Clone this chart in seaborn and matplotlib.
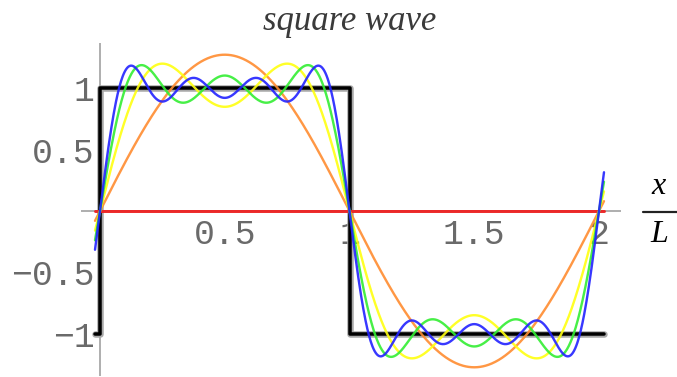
import numpy as np
import pandas as pd
import matplotlib
matplotlib.use("Agg")
import matplotlib.pyplot as plt
from matplotlib.lines import Line2D
from matplotlib.ticker import FixedLocator
import seaborn as sns

# Fourier sine series of the unit square wave on 0 < x < 2L:
# f(x) = sum over odd n of b_n sin(n*pi*x/L), with b_n = 4/(n*pi)
harmonics = [1, 3, 5, 7]
amplitudes = [4 / (n * np.pi) for n in harmonics]

# partial sums with 0..4 terms, one colour each
series_names = ["0 terms", "1 term", "2 terms", "3 terms", "4 terms"]
series_colors = ["#ee2222", "#ff8c30", "#ffff10", "#33ee33", "#2222ff"]

# the square wave itself
square_x = [-0.02, 0, 0, 1, 1, 2.02]
square_y = [-1, -1, 1, 1, -1, -1]

x_ticks = [0.5, 1, 1.5, 2]
x_tick_labels = ["0.5", "1", "1.5", "2"]
y_ticks = [-1, -0.5, 0.5, 1]
y_tick_labels = ["\u22121", "\u22120.5", "0.5", "1"]

title = "square wave"

# ---------------------------------------------------------------------------
xs = np.linspace(-0.02, 2.02, 900)
rows = []
for k, name in enumerate(series_names):
    total = np.zeros_like(xs)
    for n, b in zip(harmonics[:k], amplitudes[:k]):
        total = total + b * np.sin(n * np.pi * xs)
    rows.append(pd.DataFrame({"x": xs, "y": total, "series": name}))
partial = pd.concat(rows, ignore_index=True)
square = pd.DataFrame({"x": square_x, "y": square_y})

sns.set_theme(style="white")
plt.rcParams["font.family"] = ["DejaVu Sans"]

W, H, DPI = 677, 377, 100
fig = plt.figure(figsize=(W / DPI, H / DPI), dpi=DPI)
ax = fig.add_axes([0, 0, 1, 1])
ax.patch.set_alpha(0)

# pixel geometry of the data frame
x0_px, x_scale = 100.0, 249.5
y0_px, y_scale = 211.0, 122.75
ax.set_xlim(-x0_px / x_scale, (W - x0_px) / x_scale)
ax.set_ylim(-(H - y0_px) / y_scale, y0_px / y_scale)

px = 72.0 / DPI  # points per pixel

# square wave: thick black line with a soft grey rim
sns.lineplot(data=square, x="x", y="y", ax=ax, estimator=None, sort=False,
             color="#a8a8a8", lw=6.5 * px, zorder=2)
sns.lineplot(data=square, x="x", y="y", ax=ax, estimator=None, sort=False,
             color="black", lw=3.5 * px, zorder=2.1)

# Fourier partial sums (the constant zeroth sum drawn a little heavier)
sns.lineplot(data=partial[partial["series"] == series_names[0]], x="x", y="y",
             ax=ax, estimator=None, sort=False, color=series_colors[0],
             lw=3.0 * px, alpha=0.95, zorder=3)
sns.lineplot(data=partial[partial["series"] != series_names[0]], x="x", y="y",
             hue="series", palette=series_colors[1:], hue_order=series_names[1:],
             ax=ax, estimator=None, sort=False,
             lw=2.4 * px, alpha=0.9, legend=False, zorder=3)

# axes crossing at the origin
for side in ["top", "right"]:
    ax.spines[side].set_visible(False)
ax.spines["left"].set_position(("data", 0))
ax.spines["bottom"].set_position(("data", 0))
ax.spines["bottom"].set_bounds(-18 / x_scale, 520 / x_scale)
ax.spines["left"].set_bounds(-164 / y_scale, 167 / y_scale)
for side in ["left", "bottom"]:
    ax.spines[side].set_color("#b0b0b0")
    ax.spines[side].set_linewidth(2.0 * px)
    ax.spines[side].set_zorder(1.5)

ax.set_xticks(x_ticks)
ax.set_xticklabels(x_tick_labels)
ax.set_yticks(y_ticks)
ax.set_yticklabels(y_tick_labels)
ax.xaxis.set_minor_locator(FixedLocator([v / 10 for v in range(1, 21) if v % 5]))
ax.yaxis.set_minor_locator(FixedLocator([v / 10 for v in range(-13, 14) if v % 5]))

for lab in ax.get_xticklabels() + ax.get_yticklabels():
    lab.set_fontfamily(["Liberation Mono", "DejaVu Sans Mono"])
    lab.set_fontsize(25)
    lab.set_color("#6a6a6a")

ax.tick_params(which="both", direction="in", color="#bdbdbd", width=1.5 * px)
ax.tick_params(which="major", length=6 * px)
ax.tick_params(which="minor", length=3.5 * px)
ax.tick_params(axis="x", which="major", pad=5)
ax.tick_params(axis="y", which="major", pad=4)
ax.set_xlabel("")
ax.set_ylabel("")
ax.grid(False)

# title
fig.text(350 / W, 1 - 22 / H, title, ha="center", va="center",
         family="Liberation Serif", style="italic", size=25, color="#3a3a3a")

# axis label x / L as a stacked fraction
fig.text(659 / W, 1 - 186 / H, "x", ha="center", va="center",
         family="Liberation Serif", style="italic", size=23, color="black")
fig.text(659 / W, 1 - 234 / H, "L", ha="center", va="center",
         family="Liberation Serif", style="italic", size=23, color="black")
fig.add_artist(Line2D([643 / W, 677 / W], [1 - 212 / H, 1 - 212 / H],
                      transform=fig.transFigure, color="#222222", lw=2.2 * px))

fig.savefig("out.png", dpi=DPI)
